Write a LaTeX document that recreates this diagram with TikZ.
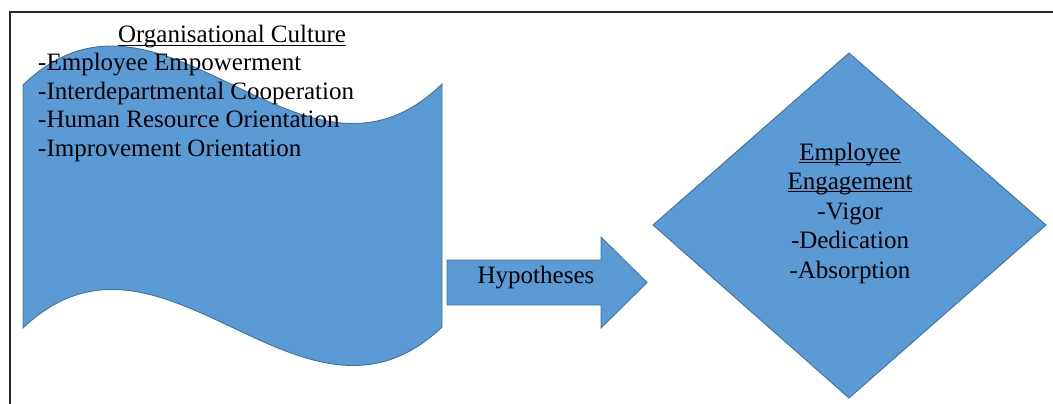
\documentclass[tikz,border=0pt]{standalone}
\usepackage{fontspec}
\setmainfont{Liberation Serif}
\definecolor{shapefill}{HTML}{5B9BD5}
\definecolor{shapeline}{HTML}{41719C}
\newcommand\myul[1]{\setbox0\hbox{#1}\rlap{\rule[-2.8pt]{\wd0}{1.2pt}}\box0}
\tikzset{
  shapestyle/.style={fill=shapefill, draw=shapeline, line width=0.9pt, line join=miter},
  frameline/.style={draw=black!85, line width=1.6pt},
  txt/.style={inner sep=0pt, font=\fontsize{25}{28.4}\selectfont, text=black},
}
\begin{document}
\begin{tikzpicture}[x=1pt,y=-1pt]
\useasboundingbox (0,0) rectangle (1053,404);
% frame
\draw[frameline] (1053,12) -- (10,12) -- (10,404);
% wave shape
\path[shapestyle] (23,85) .. controls (162.7,-50) and (302.3,220) .. (442,84)
  -- (442,327) .. controls (302.3,460) and (162.7,195) .. (23,328) -- cycle;
% arrow
\path[shapestyle] (447,260) -- (601,260) -- (601,237) -- (647,282.5) -- (601,328) -- (601,305) -- (447,305) -- cycle;
% diamond
\path[shapestyle] (849,53) -- (1046,225) -- (849,398) -- (653,225) -- cycle;
% texts
\node[txt, anchor=base] (octitle) at (232,43) {\myul{Organisational Culture}};
\node[txt, anchor=base west] (oc1) at (38,71) {-Employee Empowerment};
\node[txt, anchor=base west] (oc2) at (38,99.5) {-Interdepartmental Cooperation};
\node[txt, anchor=base west] (oc3) at (38,128) {-Human Resource Orientation};
\node[txt, anchor=base west] (oc4) at (38,156.5) {-Improvement Orientation};
\node[txt, anchor=base] (hyp) at (536,283) {Hypotheses};
\node[txt, anchor=base] (ee1) at (850,160) {\myul{Employee}};
\node[txt, anchor=base] (ee2) at (850,189) {\myul{Engagement}};
\node[txt, anchor=base] (ee3) at (850,219) {-Vigor};
\node[txt, anchor=base] (ee4) at (850,248) {-Dedication};
\node[txt, anchor=base] (ee5) at (850,278) {-Absorption};
\end{tikzpicture}
\end{document}
